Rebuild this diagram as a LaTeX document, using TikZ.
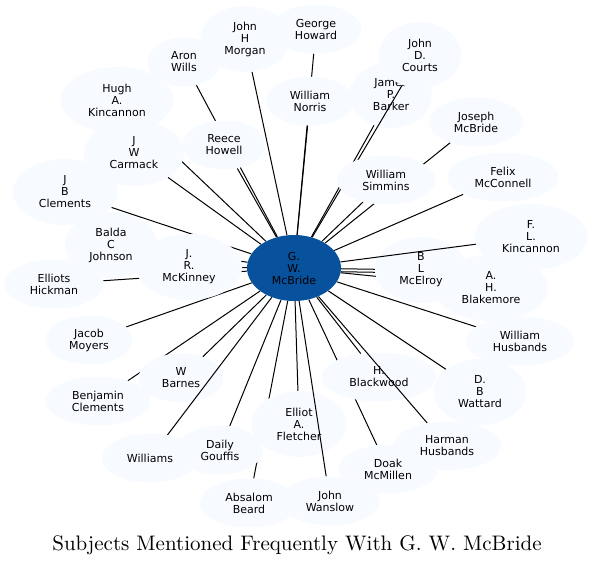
\documentclass[tikz,border=0pt]{standalone}
\usepackage{fontspec}
\newfontfamily\labelfont{DejaVu Sans}
\newfontfamily\titlefont{lmroman10-regular}[Extension=.otf]
\usetikzlibrary{shapes.geometric}
\definecolor{cHub}{HTML}{08519C}
\definecolor{cLeaf}{HTML}{F7FBFF}
\pgfdeclarelayer{ties}
\pgfdeclarelayer{under}
\pgfdeclarelayer{cross}
\pgfsetlayers{ties,under,cross,main}
\tikzset{
  leaf/.style={ellipse, fill=cLeaf, align=center, font=\labelfont\fontsize{11}{12}\selectfont,
               inner xsep=11pt, inner ysep=0pt, minimum width=73pt, minimum height=49pt},
  tall/.style={minimum height=66pt},
  hub/.style={leaf, tall, fill=cHub},
  tie/.style={line width=1pt, draw=black},
}

\begin{document}
\begin{tikzpicture}[x=1pt,y=-1pt]
\useasboundingbox (0,0) rectangle (594,565);
% centre
\node[hub] (gwm) at (294,268) {G.\\W.\\McBride};
% subjects, upper half
\node[leaf,tall] (morgan) at (245,39) {John\\H\\Morgan};
\node[leaf] (ghoward) at (316,29) {George\\Howard};
\node[leaf] (awills) at (184,62) {Aron\\Wills};
\node[leaf,tall] (hkincannon) at (117,100) {Hugh\\A.\\Kincannon};
\node[leaf] (rhowell) at (224,145) {Reece\\Howell};
\node[leaf,tall] (carmack) at (134,153) {J\\W\\Carmack};
\node[leaf,tall] (jbclements) at (65,192) {J\\B\\Clements};
\node[leaf] (norris) at (310,101) {William\\Norris};
\begin{pgfonlayer}{under}
\node[leaf,tall] (barker) at (391,95) {James\\P.\\Barker};
\end{pgfonlayer}
\node[leaf,tall] (courts) at (420,55) {John\\D.\\Courts};
\node[leaf] (jmcbride) at (476,122) {Joseph\\McBride};
\node[leaf] (simmins) at (386,180) {William\\Simmins};
\node[leaf] (mcconnell) at (503,177) {Felix\\McConnell};
\node[leaf,tall] (flkincannon) at (531,237) {F.\\L.\\Kincannon};
% subjects, middle
\begin{pgfonlayer}{under}
\node[leaf,tall] (blakemore) at (491,288) {A.\\H.\\Blakemore};
\node[leaf,tall] (mcelroy) at (421,270) {B\\L\\McElroy};
\end{pgfonlayer}
\node[leaf] (whusbands) at (520,341) {William\\Husbands};
\node[leaf,tall] (johnson) at (111,245) {Balda\\C\\Johnson};
\node[leaf,tall] (mckinney) at (189,267) {J.\\R.\\McKinney};
\node[leaf] (hickman) at (54,284) {Elliots\\Hickman};
\node[leaf] (moyers) at (89,340) {Jacob\\Moyers};
% subjects, lower half
\begin{pgfonlayer}{under}
\node[leaf] (barnes) at (181,378) {W\\Barnes};
\node[leaf] (blackwood) at (379,377) {H.\\Blackwood};
\node[leaf,tall] (fletcher) at (299,424) {Elliot\\A.\\Fletcher};
\end{pgfonlayer}
\node[leaf] (bclements) at (98,401) {Benjamin\\Clements};
\node[leaf,tall] (wattard) at (480,392) {D.\\B\\Wattard};
\node[leaf] (williams) at (150,458) {Williams};
\node[leaf] (gouffis) at (220,450) {Daily\\Gouffis};
\node[leaf] (mcmillen) at (388,469) {Doak\\McMillen};
\node[leaf] (hhusbands) at (447,446) {Harman\\Husbands};
\node[leaf] (beard) at (249,503) {Absalom\\Beard};
\node[leaf] (wanslow) at (330,501) {John\\Wanslow};
% title
\node[font=\titlefont\fontsize{21}{25}\selectfont] (title) at (297,545) {Subjects Mentioned Frequently With G. W. McBride};
% ties, most of them hidden under the ellipses
\begin{pgfonlayer}{ties}
\foreach \n in {morgan,ghoward,awills,hkincannon,rhowell,carmack,jbclements,norris,barker,
                jmcbride,simmins,mcconnell,mcelroy,blakemore,whusbands,johnson,mckinney,hickman,
                moyers,barnes,bclements,blackwood,wattard,fletcher,gouffis,mcmillen,beard}
  \draw[tie] (gwm) -- (\n);
\draw[tie, transform canvas={yshift=-3pt}] (gwm) -- (mcelroy);
\end{pgfonlayer}
% ties that run across an ellipse
\begin{pgfonlayer}{cross}
\foreach \n in {courts,flkincannon,hhusbands,wanslow,williams}
  \draw[tie] (gwm) -- (\n);
\end{pgfonlayer}
\end{tikzpicture}
\end{document}
